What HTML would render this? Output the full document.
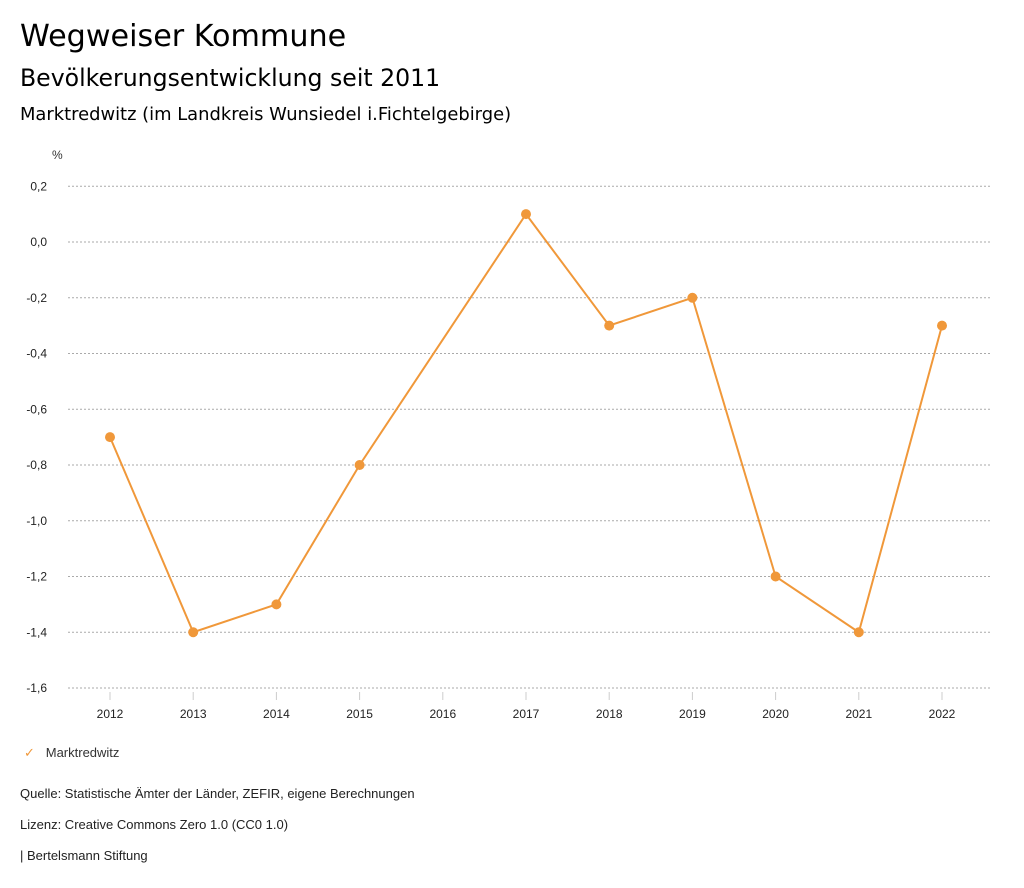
<!DOCTYPE html>
<html><head><meta charset="utf-8"><style>
body{margin:0;width:1024px;height:888px;background:#fff;font-family:"Liberation Sans","DejaVu Sans",sans-serif;color:#000;position:relative;overflow:hidden}
.t{position:absolute;white-space:nowrap}
.h{font-family:"DejaVu Sans","Liberation Sans",sans-serif}
</style></head><body>
<div class="t h" style="left:20px;top:19px;font-size:30.2px">Wegweiser Kommune</div>
<div class="t h" style="left:20px;top:64px;font-size:23.6px">Bevölkerungsentwicklung seit 2011</div>
<div class="t h" style="left:20px;top:104px;font-size:17.9px">Marktredwitz (im Landkreis Wunsiedel i.Fichtelgebirge)</div>
<svg id="chart" width="1024" height="888" style="position:absolute;left:0;top:0" font-family="Liberation Sans, DejaVu Sans, sans-serif"></svg>
<div class="t" style="left:24px;top:745px;font-size:13px;color:#333"><span style="color:#f0983a;font-size:13px;font-weight:bold">✓</span>&nbsp;&nbsp;&nbsp;Marktredwitz</div>
<div class="t" style="left:20px;top:786px;font-size:13px;color:#222">Quelle: Statistische Ämter der Länder, ZEFIR, eigene Berechnungen</div>
<div class="t" style="left:20px;top:817px;font-size:13px;color:#222">Lizenz: Creative Commons Zero 1.0 (CC0 1.0)</div>
<div class="t" style="left:20px;top:848px;font-size:13px;color:#222">| Bertelsmann Stiftung</div>
<script>
const years=[2012,2013,2014,2015,2016,2017,2018,2019,2020,2021,2022];
const values=[-0.7,-1.4,-1.3,-0.8,null,0.1,-0.3,-0.2,-1.2,-1.4,-0.3];
const yTicks=[0.2,0,-0.2,-0.4,-0.6,-0.8,-1.0,-1.2,-1.4,-1.6];
const svg=document.getElementById('chart');
const NS='http://www.w3.org/2000/svg';
function x(i){return 110+(942-110)*i/(years.length-1);}
function y(v){return 242-(v/0.2)*55.75;}
function mk(tag,attrs){const e=document.createElementNS(NS,tag);for(const k in attrs)e.setAttribute(k,attrs[k]);svg.appendChild(e);return e;}
let t=mk('text',{x:52,y:159,'font-size':12,fill:'#333'});t.textContent='%';


yTicks.forEach(v=>{
  const l=mk('line',{x1:68,x2:990,y1:y(v),y2:y(v),stroke:'#aaa','stroke-dasharray':'2,2','stroke-width':1});
  
  
  const tx=mk('text',{x:47,y:y(v)+4,'font-size':12,'text-anchor':'end',fill:'#222'});
  tx.textContent=v.toFixed(1).replace('.',',').replace(/^-0,0$/,'0,0');
  
  
});
years.forEach((yr,i)=>{
  const l=mk('line',{x1:x(i),x2:x(i),y1:692,y2:700,stroke:'#ccc'});
  
  
  const tx=mk('text',{x:x(i),y:718,'font-size':12,'text-anchor':'middle',fill:'#222'});
  tx.textContent=yr;
  
  
});
const pts=[];values.forEach((v,i)=>{if(v!==null)pts.push([x(i),y(v)]);});
const pl=mk('polyline',{points:pts.map(p=>p.join(',')).join(' '),fill:'none',stroke:'#f0983a','stroke-width':2});


values.forEach((v,i)=>{if(v===null)return;
  const c=mk('circle',{cx:x(i),cy:y(v),r:5,fill:'#f0983a'});
  
  
});
</script>
</body></html>
